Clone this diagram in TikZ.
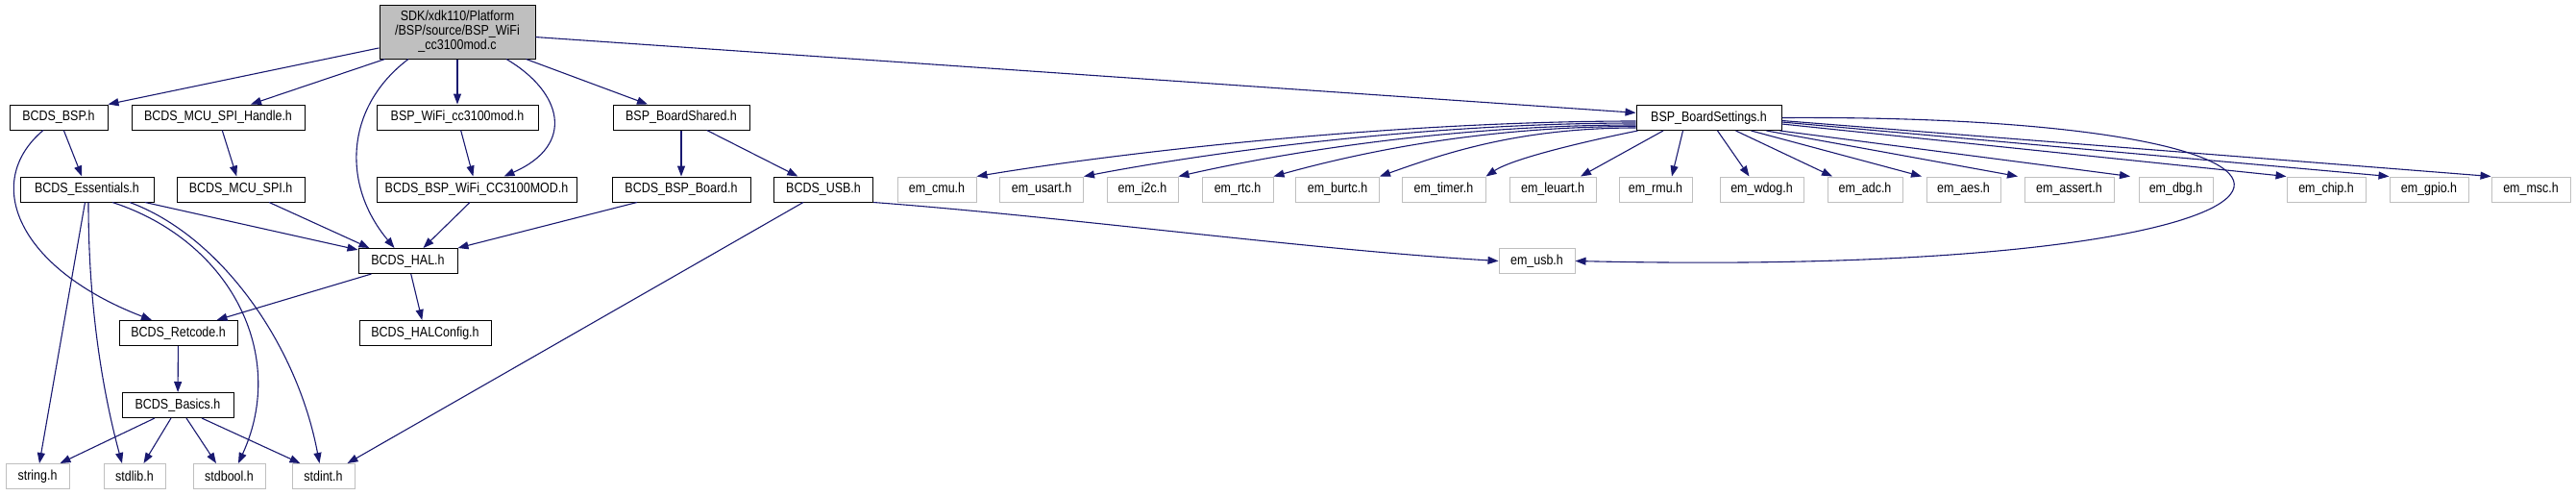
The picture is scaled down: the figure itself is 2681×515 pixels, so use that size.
\documentclass[tikz,border=0pt]{standalone}
\usepackage{fontspec}
\setmainfont{Liberation Sans}[FakeStretch=0.86]
\usetikzlibrary{arrows.meta}
\definecolor{edgeblue}{HTML}{191970}
\definecolor{boxgray}{HTML}{BFBFBF}

\begin{document}
\begin{tikzpicture}[
        x=1pt, y=-1pt,
        every node/.style={font=\fontsize{14.5}{15}\selectfont, inner xsep=2pt, inner ysep=0pt, minimum height=26pt},
        srcfile/.style={rectangle, draw=black, line width=1pt, fill=boxgray, align=center},
        incfile/.style={rectangle, draw=black, line width=1pt, fill=white},
        sysfile/.style={rectangle, draw=boxgray, line width=1pt, fill=white},
        dep/.style={-{Triangle[length=11pt,width=8pt]}, draw=edgeblue, line width=1.1pt}
        ]
        \useasboundingbox (0,0) rectangle (2681,515);

        % Source file and first level of includes
        \node[srcfile, minimum width=162pt, minimum height=56pt] (root) at (476, 33) {SDK/xdk110/Platform\\/BSP/source/BSP\_WiFi\\\_cc3100mod.c};
        \node[incfile, minimum width=102pt] (bsp) at (61, 122) {BCDS\_BSP.h};
        \node[incfile, minimum width=180pt] (spih) at (227, 122) {BCDS\_MCU\_SPI\_Handle.h};
        \node[incfile, minimum width=168pt] (wifih) at (476, 122) {BSP\_WiFi\_cc3100mod.h};
        \node[incfile, minimum width=142pt] (bshared) at (709, 122) {BSP\_BoardShared.h};
        \node[incfile, minimum width=151pt] (bsettings) at (1778.5, 122.5) {BSP\_BoardSettings.h};

        % Second level
        \node[incfile, minimum width=139pt] (ess) at (90.5, 197) {BCDS\_Essentials.h};
        \node[incfile, minimum width=133pt] (spi) at (250.5, 197) {BCDS\_MCU\_SPI.h};
        \node[incfile, minimum width=208pt] (wifimod) at (496, 197) {BCDS\_BSP\_WiFi\_CC3100MOD.h};
        \node[incfile, minimum width=144pt] (board) at (709, 197) {BCDS\_BSP\_Board.h};
        \node[incfile, minimum width=103pt] (usb) at (857, 197) {BCDS\_USB.h};
        \node[sysfile, minimum width=82pt] (cmu) at (975, 197) {em\_cmu.h};
        \node[sysfile, minimum width=87pt] (usart) at (1084, 197) {em\_usart.h};
        \node[sysfile, minimum width=74pt] (i2c) at (1189, 197) {em\_i2c.h};
        \node[sysfile, minimum width=74pt] (rtc) at (1288, 197) {em\_rtc.h};
        \node[sysfile, minimum width=87pt] (burtc) at (1392, 197) {em\_burtc.h};
        \node[sysfile, minimum width=87pt] (timer) at (1502.5, 197) {em\_timer.h};
        \node[sysfile, minimum width=90pt] (leuart) at (1616, 197) {em\_leuart.h};
        \node[sysfile, minimum width=76pt] (rmu) at (1723, 197) {em\_rmu.h};
        \node[sysfile, minimum width=87pt] (wdog) at (1833.5, 197) {em\_wdog.h};
        \node[sysfile, minimum width=78pt] (adc) at (1941, 197) {em\_adc.h};
        \node[sysfile, minimum width=77pt] (aes) at (2043.5, 197) {em\_aes.h};
        \node[sysfile, minimum width=93pt] (assert) at (2153.5, 197) {em\_assert.h};
        \node[sysfile, minimum width=77pt] (dbg) at (2264.5, 197) {em\_dbg.h};
        \node[sysfile, minimum width=82pt] (chip) at (2421, 197) {em\_chip.h};
        \node[sysfile, minimum width=82pt] (gpio) at (2528, 197) {em\_gpio.h};
        \node[sysfile, minimum width=82pt] (msc) at (2634, 197) {em\_msc.h};

        % Lower levels
        \node[incfile, minimum width=103pt] (hal) at (424.5, 271.5) {BCDS\_HAL.h};
        \node[sysfile, minimum width=79pt] (usbem) at (1599.5, 271.5) {em\_usb.h};
        \node[incfile, minimum width=123pt] (retcode) at (185.5, 346.5) {BCDS\_Retcode.h};
        \node[incfile, minimum width=137pt] (halcfg) at (442.5, 346.5) {BCDS\_HALConfig.h};
        \node[incfile, minimum width=116pt] (basics) at (185, 421.5) {BCDS\_Basics.h};
        \node[sysfile, minimum width=66pt] (string) at (39, 495.5) {string.h};
        \node[sysfile, minimum width=64pt] (stdlib) at (140, 495.5) {stdlib.h};
        \node[sysfile, minimum width=75pt] (stdbool) at (238.5, 495.5) {stdbool.h};
        \node[sysfile, minimum width=65pt] (stdint) at (336.5, 495.5) {stdint.h};

        % Includes of the source file
        \draw[dep] (root) -- (bsp.north east);
        \draw[dep] ([xshift=6pt]root.south west) -- ([xshift=34pt]spih.north);
        \draw[dep] ([xshift=-51pt]root.south) .. controls +(-65,49) and +(-56,-67) .. ([xshift=-14pt]hal.north);
        \draw[dep] (root) -- (wifih);
        \draw[dep] ([xshift=51pt]root.south) .. controls +(58,34) and +(75.5,-33) .. ([xshift=28.5pt]wifimod.north);
        \draw[dep] ([xshift=-10pt]root.south east) -- ([xshift=-35pt]bshared.north);
        \draw[dep] (root) -- (bsettings);

        \draw[dep] (bsp) -- (ess);
        \draw[dep] ([xshift=-16pt]bsp.south) .. controls +(-65,55) and +(-138,-53) .. ([xshift=-27.5pt]retcode.north);
        \draw[dep] (spih) -- (spi);
        \draw[dep] (wifih) -- (wifimod);
        \draw[dep] (bshared) -- (board);
        \draw[dep] (bshared) -- (usb);

        % BCDS_Essentials.h
        \draw[dep] (ess) -- (hal);
        \draw[dep] ([xshift=-2pt]ess.south) -- ([xshift=2pt]string.north);
        \draw[dep] ([xshift=1.5pt]ess.south) .. controls +(0,120) and +(-17,-63) .. ([xshift=-13pt]stdlib.north);
        \draw[dep] ([xshift=26.5pt]ess.south) .. controls +(123,40) and +(52,-113) .. ([xshift=9.5pt]stdbool.north);
        \draw[dep] ([xshift=44.5pt]ess.south) .. controls +(95,35) and +(-23,-123) .. ([xshift=-4pt]stdint.north);

        \draw[dep] (spi) -- ([xshift=-40pt]hal.north);
        \draw[dep] ([xshift=-7pt]wifimod.south) -- ([xshift=16pt]hal.north);
        \draw[dep] ([xshift=-46pt]board.south) -- (hal.north east);
        \draw[dep] ([xshift=-38pt]hal.south) -- ([xshift=40pt]retcode.north);
        \draw[dep] (hal) -- (halcfg);
        \draw[dep] (retcode) -- (basics);

        % BCDS_Basics.h
        \draw[dep] ([xshift=-24pt]basics.south) -- ([xshift=23.5pt]string.north);
        \draw[dep] ([xshift=-7pt]basics.south) -- ([xshift=9.5pt]stdlib.north);
        \draw[dep] ([xshift=9pt]basics.south) -- ([xshift=-13.5pt]stdbool.north);
        \draw[dep] ([xshift=25pt]basics.south) -- ([xshift=-24pt]stdint.north);

        % BCDS_USB.h
        \draw[dep] ([xshift=-21pt]usb.south) -- ([xshift=25pt]stdint.north);
        \draw[dep] (usb.south east) .. controls +(200,15) and +(-200,-12) .. (usbem.west);

        % BSP_BoardSettings.h
        \draw[dep] ([yshift=-3.5pt]bsettings.west) .. controls +(-250,0) and +(150,-25) .. (cmu.north east);
        \draw[dep] ([yshift=-5.5pt]bsettings.west) .. controls +(-220,0) and +(130,-25) .. (usart.north east);
        \draw[dep] ([yshift=-7.5pt]bsettings.west) .. controls +(-190,0) and +(110,-25) .. (i2c.north east);
        \draw[dep] ([yshift=-9pt]bsettings.west) .. controls +(-160,0) and +(90,-25) .. (rtc.north east);
        \draw[dep] ([yshift=-10.5pt]bsettings.west) .. controls +(-120,0) and +(70,-25) .. (burtc.north east);
        \draw[dep] ([xshift=2pt]bsettings.south west) .. controls +(-40,8) and +(30,-20) .. (timer.north east);
        \draw[dep] ([xshift=-47.5pt]bsettings.south) -- ([xshift=29pt]leuart.north);
        \draw[dep] ([xshift=-27pt]bsettings.south) -- ([xshift=17pt]rmu.north);
        \draw[dep] ([xshift=9pt]bsettings.south) -- ([xshift=-13pt]wdog.north);
        \draw[dep] ([xshift=28pt]bsettings.south) -- ([xshift=-34pt]adc.north);
        \draw[dep] ([xshift=44pt]bsettings.south) -- ([xshift=-43.5pt]aes.north);
        \draw[dep] ([xshift=-16pt]bsettings.south east) -- ([xshift=-53.5pt]assert.north);
        \draw[dep] ([xshift=-2pt]bsettings.south east) -- ([xshift=-47.5pt]dbg.north);
        \draw[dep] ([yshift=-6.5pt]bsettings.east) -- (chip.north west);
        \draw[dep] ([yshift=-4.5pt]bsettings.east) -- (gpio.north west);
        \draw[dep] ([yshift=-3pt]bsettings.east) -- (msc.north west);
        \draw[dep] (bsettings.east) .. controls +(686,-4) and +(841,19) .. (usbem.east);

    \end{tikzpicture}
\end{document}
